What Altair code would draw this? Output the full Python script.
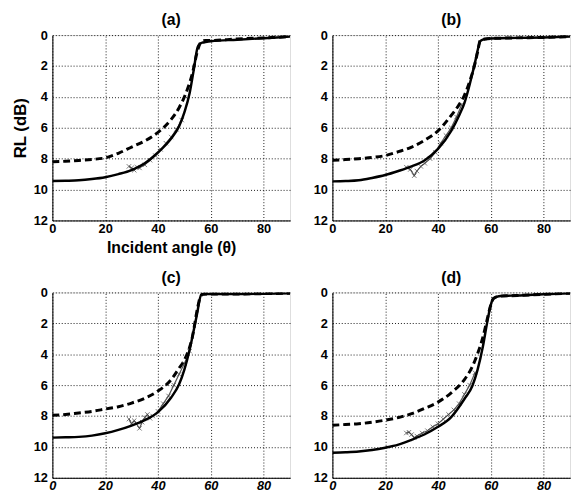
import altair as alt
import pandas as pd

FONT = "Liberation Sans"

# ---------------- data ----------------
x_ticks = [0, 20, 40, 60, 80]
y_ticks = [0, 2, 4, 6, 8, 10, 12]
panel_labels = ["(a)", "(b)", "(c)", "(d)"]

a_solid_x = [0, 5, 10, 15, 20, 25, 30, 35, 40, 43, 45, 48, 50, 52, 53.5, 55, 56, 57, 58, 60, 70, 80, 90]
a_solid_y = [9.45, 9.43, 9.4, 9.32, 9.2, 9.0, 8.74, 8.3, 7.6, 7.1, 6.7, 5.9, 5.0, 3.75, 2.3, 0.8, 0.55, 0.48, 0.45, 0.4, 0.3, 0.2, 0.1]
a_dash_x = [0, 5, 10, 15, 20, 25, 30, 35, 40, 45, 48, 50, 53, 55, 56.5, 58, 60, 70, 80, 90]
a_dash_y = [8.2, 8.17, 8.12, 8.05, 7.95, 7.65, 7.25, 6.85, 6.3, 5.46, 4.7, 4.0, 2.5, 1.0, 0.4, 0.35, 0.35, 0.25, 0.18, 0.1]
a_meas_x = [29, 30, 31, 32, 33, 35, 37, 39, 41, 43, 45, 47, 49]
a_meas_y = [8.5, 8.6, 8.75, 8.55, 8.6, 8.4, 8.1, 7.8, 7.4, 7.0, 6.6, 6.1, 5.5]

b_solid_x = [0, 5, 10, 15, 20, 25, 30, 35, 40, 45, 48, 50, 52, 53, 54, 55, 56, 57, 58, 60, 70, 80, 90]
b_solid_y = [9.47, 9.45, 9.4, 9.25, 9.06, 8.8, 8.5, 8.1, 7.37, 6.2, 5.2, 4.4, 3.2, 2.5, 1.8, 1.0, 0.4, 0.3, 0.25, 0.22, 0.18, 0.15, 0.1]
b_dash_x = [0, 5, 10, 15, 20, 25, 30, 35, 40, 45, 48, 50, 52, 54, 55, 56, 58, 60, 70, 80, 90]
b_dash_y = [8.1, 8.06, 8.0, 7.92, 7.8, 7.55, 7.25, 6.8, 6.2, 5.2, 4.5, 3.9, 3.0, 1.85, 1.1, 0.35, 0.25, 0.22, 0.18, 0.15, 0.1]
b_meas_x = [28, 29.5, 31, 32, 33.5, 35, 37, 39, 41, 43, 45, 47, 49]
b_meas_y = [8.55, 8.7, 9.1, 8.8, 8.5, 8.3, 8.0, 7.6, 7.0, 6.5, 6.0, 5.3, 4.5]

c_solid_x = [0, 5, 10, 15, 20, 25, 30, 35, 40, 45, 48, 50, 52, 54, 55, 55.5, 56.5, 58, 60, 70, 80, 90]
c_solid_y = [9.4, 9.38, 9.35, 9.27, 9.12, 8.9, 8.62, 8.27, 7.75, 6.8, 5.95, 5.0, 3.7, 2.06, 1.2, 0.7, 0.12, 0.1, 0.1, 0.1, 0.08, 0.05]
c_dash_x = [0, 5, 10, 15, 20, 25, 30, 35, 40, 45, 48, 50, 53, 55, 56, 57, 60, 70, 80, 90]
c_dash_y = [7.95, 7.9, 7.8, 7.7, 7.55, 7.4, 7.16, 6.85, 6.38, 5.64, 4.9, 4.38, 2.9, 1.0, 0.3, 0.12, 0.1, 0.1, 0.08, 0.05]
c_meas_x = [29, 30, 31, 33, 34, 35, 36, 37, 38, 40, 42, 44, 46, 48, 50, 52]
c_meas_y = [8.2, 8.5, 8.3, 8.8, 8.4, 8.1, 7.9, 8.15, 8.0, 7.7, 7.2, 6.7, 6.0, 5.3, 4.6, 3.8]

d_solid_x = [0, 5, 10, 15, 20, 25, 30, 35, 40, 45, 50, 53, 55, 57, 58.5, 60, 61, 63, 65, 70, 80, 90]
d_solid_y = [10.38, 10.35, 10.3, 10.2, 10.05, 9.85, 9.54, 9.18, 8.7, 8.07, 6.9, 6.06, 5.0, 3.5, 2.06, 0.8, 0.38, 0.25, 0.22, 0.2, 0.12, 0.05]
d_dash_x = [0, 5, 10, 15, 20, 25, 30, 35, 40, 45, 50, 53, 55, 57, 58.5, 60, 61, 63, 70, 80, 90]
d_dash_y = [8.6, 8.55, 8.5, 8.4, 8.27, 8.1, 7.85, 7.5, 7.1, 6.5, 5.64, 4.8, 3.96, 2.9, 1.84, 0.8, 0.4, 0.25, 0.2, 0.12, 0.05]
d_meas_x = [28, 29, 30, 31, 32, 34, 36, 38, 40, 42, 44, 46, 48, 50, 52, 54]
d_meas_y = [9.1, 9.05, 9.2, 9.4, 9.3, 9.1, 8.95, 8.7, 8.5, 8.2, 7.9, 7.6, 7.2, 6.6, 6.0, 5.2]

W, H = 241, 188
XMARK = "M-1,-1L1,1M-1,1L1,-1"


def panel(label, sx, sy, dx, dy, mx, my, first, bottom):
    xenc_axis = alt.Axis(
        values=x_ticks, ticks=False, labelPadding=2, labelFont=FONT, labelFontSize=13,
        labelFontWeight="bold", labelFontStyle="italic" if bottom else "normal",
        labelColor="black", grid=True, gridDash=[1, 2], gridColor="black", gridOpacity=0.9,
        domainColor="black", domainWidth=1, labelFlush=False,
        title="Incident angle (θ)" if first else None,
        titleFont=FONT, titleFontSize=16, titleFontWeight="bold", titleColor="black", titlePadding=4,
    )
    yenc_axis = alt.Axis(
        values=y_ticks, ticks=False, labelPadding=5, labelFont=FONT, labelFontSize=13,
        labelFontWeight="bold", labelColor="black", grid=True, gridDash=[1, 2],
        gridColor="black", gridOpacity=0.9, domainColor="black", domainWidth=1,
        labelFlush=False,
        title="RL (dB)" if first else None,
        titleFont=FONT, titleFontSize=17, titleFontWeight="bold", titleColor="black", titlePadding=4,
    )
    xs = alt.Scale(domain=[0, 90], nice=False)
    ys = alt.Scale(domain=[0, 12], reverse=True, nice=False)
    X = alt.X("x:Q", scale=xs, axis=xenc_axis)
    Y = alt.Y("y:Q", scale=ys, axis=yenc_axis)

    solid = alt.Chart(pd.DataFrame({"x": sx, "y": sy})).mark_line(
        color="black", strokeWidth=2.5, interpolate="monotone", clip=True).encode(x=X, y=Y)
    dashed = alt.Chart(pd.DataFrame({"x": dx, "y": dy})).mark_line(
        color="black", strokeWidth=3, strokeDash=[7, 4], interpolate="monotone", clip=True).encode(x=X, y=Y)
    mdf = pd.DataFrame({"x": mx, "y": my})
    mline = alt.Chart(mdf).mark_line(color="#555555", strokeWidth=1.2).encode(x=X, y=Y)
    mpts = alt.Chart(mdf).mark_point(shape=XMARK, size=20, color="#444444",
                                     strokeWidth=1, filled=False).encode(x=X, y=Y)
    return alt.layer(dashed, mline, mpts, solid).properties(
        width=W, height=H,
        title=alt.TitleParams(text=label, font=FONT, fontSize=16, fontWeight="bold",
                              color="black", offset=1, anchor="middle"),
    )


pa = panel(panel_labels[0], a_solid_x, a_solid_y, a_dash_x, a_dash_y, a_meas_x, a_meas_y, True, False)
pb = panel(panel_labels[1], b_solid_x, b_solid_y, b_dash_x, b_dash_y, b_meas_x, b_meas_y, False, False)
pc = panel(panel_labels[2], c_solid_x, c_solid_y, c_dash_x, c_dash_y, c_meas_x, c_meas_y, False, True)
pd_ = panel(panel_labels[3], d_solid_x, d_solid_y, d_dash_x, d_dash_y, d_meas_x, d_meas_y, False, True)

chart = alt.concat(
    pa, pb, pc, pd_, columns=2,
    spacing={"row": 73, "column": 43}, bounds="flush",
).properties(
    padding={"left": 3, "top": 0, "right": 0, "bottom": 0},
).configure_view(stroke=None).configure(background="white")

chart.save("out.html", embed_options={"renderer": "svg", "actions": False})
